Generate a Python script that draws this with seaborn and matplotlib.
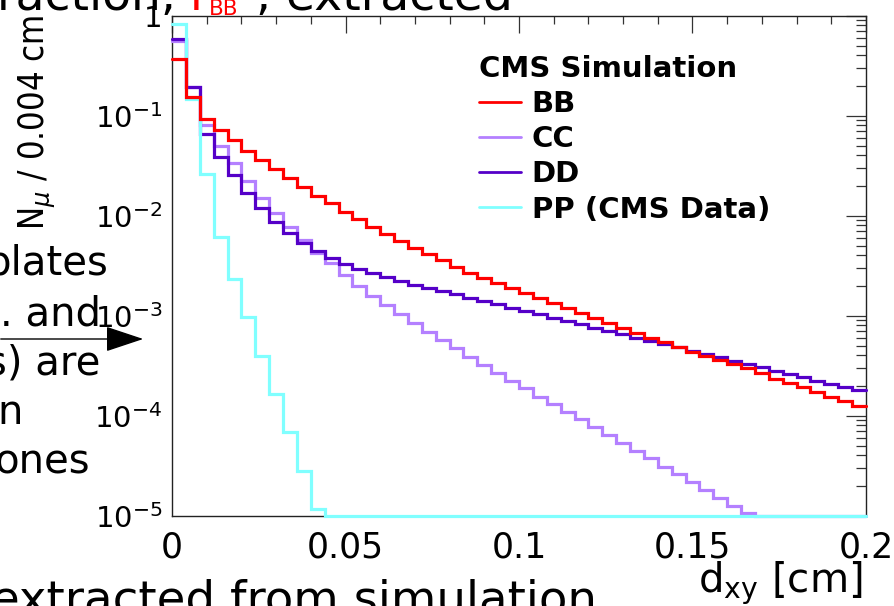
import numpy as np
import pandas as pd
import matplotlib
matplotlib.use("Agg")
import matplotlib.pyplot as plt
import seaborn as sns
from matplotlib import font_manager
from matplotlib.font_manager import FontProperties
from matplotlib.lines import Line2D
from matplotlib.ticker import LogLocator, NullFormatter, MultipleLocator

# ---------------- data ----------------
x_range = (0.0, 0.2)
n_bins = 50
series_names = ["BB", "CC", "DD", "PP (CMS Data)"]
series_colors = ["#ff0000", "#b480ff", "#5500c8", "#80ffff"]

bb_values = [0.369, 0.153, 0.0920, 0.0719, 0.0571, 0.0444, 0.0361, 0.0293, 0.0237, 0.0192,
             0.0158, 0.0133, 0.0110, 0.00920, 0.00776, 0.00656, 0.00562, 0.00479, 0.00414, 0.00361,
             0.00309, 0.00269, 0.00240, 0.00214, 0.00188, 0.00167, 0.00149, 0.00133, 0.00119, 0.00106,
             0.000942, 0.000839, 0.000748, 0.000676, 0.000603, 0.000542, 0.000483, 0.000437, 0.000398, 0.000361,
             0.000327, 0.000298, 0.000269, 0.000233, 0.000211, 0.000192, 0.000174, 0.000155, 0.000141, 0.000126]

cc_values = [0.562, 0.195, 0.0813, 0.0501, 0.0334, 0.0222, 0.0149, 0.0107, 0.00776, 0.00568,
             0.00421, 0.00334, 0.00255, 0.00198, 0.00157, 0.00128, 0.00104, 0.000851, 0.000692, 0.000571,
             0.000472, 0.000389, 0.000321, 0.000269, 0.000224, 0.000188, 0.000155, 0.000131, 0.000110, 9.20e-5,
             7.66e-5, 6.41e-5, 5.30e-5, 4.44e-5, 3.75e-5, 3.09e-5, 2.61e-5, 2.16e-5, 1.81e-5, 1.49e-5,
             1.25e-5, 1.06e-5, 0, 0, 0, 0, 0, 0, 0, 0]

dd_values = [0.580, 0.192, 0.0656, 0.0389, 0.0255, 0.0170, 0.0119, 0.00871, 0.00667, 0.00530,
             0.00447, 0.00375, 0.00329, 0.00293, 0.00265, 0.00242, 0.00222, 0.00203, 0.00191, 0.00177,
             0.00164, 0.00151, 0.00141, 0.00130, 0.00120, 0.00111, 0.00103, 0.000955, 0.000885, 0.000820,
             0.000759, 0.000703, 0.000652, 0.000603, 0.000558, 0.000521, 0.000483, 0.000447, 0.000414, 0.000384,
             0.000355, 0.000329, 0.000305, 0.000282, 0.000261, 0.000242, 0.000224, 0.000207, 0.000192, 0.000181]

pp_values = [0.82, 0.148, 0.0261, 0.0061, 0.00233, 0.00096, 0.000395, 0.000165, 6.8e-5, 2.8e-5,
             1.17e-5, 0, 0, 0, 0, 0, 0, 0, 0, 0,
             0, 0, 0, 0, 0, 0, 0, 0, 0, 0,
             0, 0, 0, 0, 0, 0, 0, 0, 0, 0,
             0, 0, 0, 0, 0, 0, 0, 0, 0, 0]

x_tick_values = [0, 0.05, 0.1, 0.15, 0.2]
x_tick_labels = ["0", "0.05", "0.1", "0.15", "0.2"]
y_tick_values = [1, 1e-1, 1e-2, 1e-3, 1e-4, 1e-5]
y_tick_labels = ["1", r"$10^{-1}$", r"$10^{-2}$", r"$10^{-3}$", r"$10^{-4}$", r"$10^{-5}$"]
y_min, y_max = 1e-5, 1.0

legend_title = "CMS Simulation"
x_title = r"d$_{\mathrm{xy}}$ [cm]"
y_title = r"N$_{\mu}$ / 0.004 cm"

# ---------------- style ----------------
sns.set_style("white")
plt.rcParams["font.family"] = ["DejaVu Sans"]
plt.rcParams["mathtext.fontset"] = "dejavusans"
plt.rcParams["text.color"] = "black"
plt.rcParams["xtick.labelcolor"] = "black"
plt.rcParams["ytick.labelcolor"] = "black"


def find_narrow_font():
    prefs = ["liberationsansnarrow-regular", "dejavusanscondensed.", "robotocondensed-regular",
             "opensans_condensed-regular", "opensanscondensed", "condensed-regular", "narrow"]
    files = [f.fname for f in font_manager.fontManager.ttflist]
    for key in prefs:
        for fn in files:
            base = fn.lower().split("/")[-1]
            if key in base and "bold" not in base and "italic" not in base and "oblique" not in base:
                return fn
    return None


W, H = 895, 606


def fx(x):
    return x / W


def fy(y):
    return 1 - y / H


fig = plt.figure(figsize=(W / 100, H / 100), dpi=100, facecolor="white")
ax = fig.add_axes([fx(172), fy(515.7), 694 / W, 500 / H], facecolor="white")

edges = np.linspace(x_range[0], x_range[1], n_bins + 1)
centers = 0.5 * (edges[:-1] + edges[1:])
bin_list = [float(e) for e in edges]

all_values = {"BB": bb_values, "CC": cc_values, "DD": dd_values, "PP (CMS Data)": pp_values}
color_of = dict(zip(series_names, series_colors))

draw_order = ["CC", "DD", "PP (CMS Data)", "BB"]
for name in draw_order:
    df = pd.DataFrame({"dxy": centers,
                       "content": np.clip(np.asarray(all_values[name], dtype=float), y_min, None)})
    sns.histplot(data=df, x="dxy", weights="content", bins=bin_list, element="step", fill=False,
                 color=color_of[name], linewidth=2.3, ax=ax)
    line = ax.lines[-1]
    line.set_clip_on(False)
    line.set_zorder(3)
    line.set_solid_joinstyle("miter")

ax.set_yscale("log")
ax.set_xlim(*x_range)
ax.set_ylim(y_min, y_max)
ax.set_xlabel("")
ax.set_ylabel("")

# ticks
ax.set_xticks(x_tick_values)
ax.set_xticklabels(x_tick_labels)
ax.xaxis.set_minor_locator(MultipleLocator(0.01))
ax.set_yticks(y_tick_values)
ax.set_yticklabels(y_tick_labels)
ax.yaxis.set_minor_locator(LogLocator(base=10, subs=np.arange(2, 10), numticks=20))
ax.yaxis.set_minor_formatter(NullFormatter())

tick_col = "#333333"
ax.tick_params(which="both", direction="in", top=True, right=True, color=tick_col, width=0.9)
ax.tick_params(axis="x", which="major", length=12.5, labelsize=25, pad=10.5, labelcolor="black")
ax.tick_params(axis="x", which="minor", length=6)
ax.tick_params(axis="y", which="major", length=14.5, labelsize=21, pad=7, labelcolor="black")
ax.tick_params(axis="y", which="minor", length=7.5)
for s in ax.spines.values():
    s.set_color("#222222")
    s.set_linewidth(1.0)
    s.set_visible(True)

# legend
handles = [Line2D([], [], color=color_of[n], lw=2.0) for n in series_names]
leg = ax.legend(handles, series_names, title=legend_title, loc="upper left",
                bbox_to_anchor=(fx(479), fy(55)), bbox_transform=fig.transFigure,
                frameon=False, borderpad=0, borderaxespad=0, handlelength=1.45,
                handletextpad=0.36, labelspacing=0.245, alignment="left",
                prop={"weight": "bold", "size": 21},
                title_fontproperties={"weight": "bold", "size": 21})
leg.set_zorder(5)
for t in leg.get_texts():
    t.set_color("black")
leg.get_title().set_color("black")

# axis titles (ROOT style, at the axis ends)
narrow_file = find_narrow_font()
if narrow_file:
    yfp = FontProperties(fname=narrow_file, size=30)
else:
    yfp = FontProperties(family=["Liberation Sans", "DejaVu Sans"], size=26)
ytxt = fig.text(fx(37), fy(15), y_title, rotation=90, ha="center", va="top",
                fontproperties=yfp, color="black")
xtxt = fig.text(fx(862), fy(592), x_title, ha="right", va="baseline", fontsize=26, color="black")

fig.canvas.draw()
renderer = fig.canvas.get_renderer()
# fit title lengths to the reference extents
ylen = ytxt.get_window_extent(renderer).height
yfp.set_size(yfp.get_size() * 215.0 / ylen)
ytxt.set_fontproperties(yfp)
xlen = xtxt.get_window_extent(renderer).width
xtxt.set_fontsize(26 * 165.0 / xlen)

# ---------------- slide text around the embedded plot ----------------
slide_kw = dict(family=["DejaVu Sans"], color="black", va="baseline", ha="left")
fig.text(fx(-3), fy(10), "raction,", fontsize=34, **slide_kw)
fig.text(fx(189), fy(10), "f", fontsize=34, **{**slide_kw, "color": "#ff0000"})
fig.text(fx(209), fy(15), "BB", fontsize=15.5, **{**slide_kw, "color": "#ff0000"})
fig.text(fx(256), fy(10), ", extracted", fontsize=34, **slide_kw)

left_lines = [("plates", -15, 275), (". and", 0, 325), ("s) are", -14, 375),
              ("n", -3, 424), ("ones", -5, 473)]
for txt, x0, yb in left_lines:
    fig.text(fx(x0), fy(yb), txt, fontsize=29, **slide_kw)

fig.text(fx(-9), fy(614), "extracted from simulation", fontsize=33.6, **slide_kw)

fig.add_artist(matplotlib.patches.FancyArrowPatch(
    (fx(-2), fy(339)), (fx(146), fy(339)), transform=fig.transFigure,
    arrowstyle="-|>,head_length=2.4,head_width=0.8", mutation_scale=10,
    color="black", lw=1.0, zorder=6))

fig.savefig("out.png", dpi=100, facecolor="white")
